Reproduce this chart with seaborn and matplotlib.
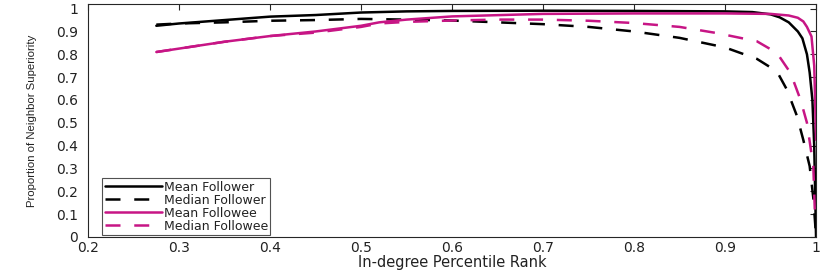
import numpy as np
import pandas as pd
import matplotlib
matplotlib.use("Agg")
import matplotlib.pyplot as plt
import seaborn as sns

# values
mean_follower_x = [0.275, 0.3, 0.35, 0.4, 0.45, 0.5, 0.55, 0.6, 0.7, 0.8, 0.9, 0.93, 0.95,
                   0.96, 0.97, 0.98, 0.985, 0.99, 0.993, 0.996, 0.998, 0.999, 1.0]
mean_follower_y = [0.925, 0.935, 0.95, 0.965, 0.972, 0.983, 0.988, 0.99, 0.991, 0.99, 0.988,
                   0.985, 0.975, 0.962, 0.94, 0.90, 0.87, 0.80, 0.72, 0.60, 0.40, 0.20, 0.0]

median_follower_x = [0.275, 0.3, 0.35, 0.4, 0.45, 0.5, 0.55, 0.6, 0.65, 0.7, 0.75, 0.8, 0.85,
                     0.9, 0.935, 0.957, 0.968, 0.979, 0.986, 0.993, 0.997, 0.999, 1.0]
median_follower_y = [0.93, 0.935, 0.94, 0.947, 0.95, 0.955, 0.952, 0.948, 0.94, 0.932, 0.92,
                     0.90, 0.872, 0.83, 0.78, 0.725, 0.645, 0.53, 0.425, 0.31, 0.17, 0.06, 0.0]

mean_followee_x = [0.275, 0.3, 0.35, 0.4, 0.45, 0.5, 0.52, 0.55, 0.6, 0.7, 0.8, 0.9, 0.95,
                   0.97, 0.98, 0.986, 0.99, 0.995, 0.998, 0.999, 1.0]
mean_followee_y = [0.81, 0.825, 0.855, 0.88, 0.9, 0.925, 0.94, 0.952, 0.966, 0.977, 0.979,
                   0.979, 0.977, 0.97, 0.96, 0.944, 0.92, 0.878, 0.75, 0.60, 0.425]

median_followee_x = [0.275, 0.3, 0.35, 0.4, 0.45, 0.5, 0.52, 0.55, 0.6, 0.65, 0.7, 0.75, 0.8,
                     0.85, 0.891, 0.935, 0.957, 0.972, 0.983, 0.99, 0.997, 0.999]
median_followee_y = [0.81, 0.825, 0.855, 0.88, 0.895, 0.92, 0.935, 0.942, 0.948, 0.952, 0.952,
                     0.947, 0.937, 0.92, 0.893, 0.857, 0.806, 0.718, 0.60, 0.50, 0.31, 0.075]

labels = ["Mean Follower", "Median Follower", "Mean Followee", "Median Followee"]
xtick_labels = ["0.2", "0.3", "0.4", "0.5", "0.6", "0.7", "0.8", "0.9", "1"]
ytick_labels = ["0", "0.1", "0.2", "0.3", "0.4", "0.5", "0.6", "0.7", "0.8", "0.9", "1"]

sns.set_theme(style="white")
plt.rcParams['font.family'] = ['DejaVu Sans']

black = "#000000"
magenta = "#C71585"

fig = plt.figure(figsize=(8.31, 2.72), dpi=100)
ax = fig.add_axes([0.106, 0.129, 0.876, 0.856])

series = [
    (mean_follower_x, mean_follower_y, black, "-"),
    (median_follower_x, median_follower_y, black, "--"),
    (mean_followee_x, mean_followee_y, magenta, "-"),
    (median_followee_x, median_followee_y, magenta, "--"),
]
for (xs, ys, c, ls), lab in zip(series, labels):
    df = pd.DataFrame({"x": xs, "y": ys})
    sns.lineplot(data=df, x="x", y="y", ax=ax, color=c, lw=1.8,
                 estimator=None, sort=False, label=lab)
    if ls == "--":
        ax.lines[-1].set_dashes([6, 5.5])

ax.set_xlim(0.2, 1.0)
ax.set_ylim(0, 1.02)
ax.set_xticks(np.arange(0.2, 1.01, 0.1))
ax.set_xticklabels(xtick_labels)
ax.set_yticks(np.arange(0, 1.01, 0.1))
ax.set_yticklabels(ytick_labels)
ax.tick_params(direction="in", length=4, width=0.8, colors="#262626", labelsize=10,
               top=True, right=True, labelcolor="#222222")
ax.tick_params(axis="y", pad=7)
ax.tick_params(axis="x", pad=3)
for s in ax.spines.values():
    s.set_color("#262626")
    s.set_linewidth(0.8)

ax.set_xlabel("In-degree Percentile Rank", fontsize=10.5, labelpad=0, color="#222222")
ax.set_ylabel("Proportion of Neighbor Superiority", fontsize=8.2, labelpad=14,
              family=['Liberation Sans', 'DejaVu Sans'], color="#222222")

leg = ax.legend(loc="lower left", bbox_to_anchor=(0.017, 0.0), fontsize=9, frameon=True,
                fancybox=False, edgecolor="#262626", handlelength=4.6, handletextpad=0.1,
                labelspacing=0.0, borderpad=0.2, borderaxespad=0.15)
leg.get_frame().set_linewidth(0.8)
for t in leg.get_texts():
    t.set_color("#222222")

fig.savefig("out.png", dpi=100)
